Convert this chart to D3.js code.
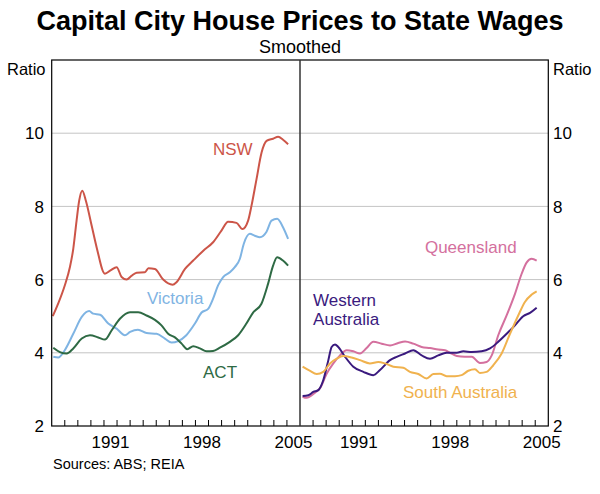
<!DOCTYPE html>
<html>
<head>
<meta charset="utf-8">
<script src="https://d3js.org/d3.v7.min.js"></script>
<style>
  body { margin: 0; background: #fff; }
  text { font-family: Arial, "Liberation Sans", sans-serif; }
</style>
</head>
<body>
<svg id="chart" width="600" height="494"></svg>
<script>
// Values: [year, ratio]
var nsw = [[1987.08,5.0],[1987.5,5.35],[1988.0,5.84],[1988.4,6.35],[1988.65,6.84],[1988.9,7.6],[1989.1,8.15],[1989.34,8.43],
  [1989.62,8.15],[1990.06,7.47],[1990.44,6.88],[1991.07,6.16],[1991.5,6.25],[1991.97,6.34],[1992.35,6.07],[1992.73,6.0],
  [1993.1,6.1],[1993.5,6.19],[1994.13,6.2],[1994.4,6.31],[1994.9,6.29],[1995.53,6.0],[1996.25,5.86],[1996.55,5.93],
  [1997.2,6.29],[1997.83,6.52],[1998.6,6.79],[1999.35,7.02],[1999.99,7.34],[2000.5,7.58],[2001.14,7.55],[2001.6,7.38],
  [2002.03,7.61],[2002.29,8.02],[2002.67,8.74],[2003.06,9.47],[2003.44,9.79],[2003.94,9.85],[2004.33,9.9],[2004.7,9.82],[2005.09,9.7]];

var victoria = [[1987.12,3.89],[1987.5,3.87],[1988.0,4.07],[1988.65,4.52],[1989.3,4.98],[1989.87,5.14],[1990.18,5.07],
  [1990.7,5.04],[1991.33,4.8],[1991.97,4.66],[1992.6,4.48],[1993.0,4.57],[1993.6,4.63],[1994.26,4.54],[1995.03,4.52],
  [1995.66,4.39],[1996.17,4.28],[1996.68,4.32],[1997.3,4.48],[1997.96,4.8],[1998.47,5.1],[1998.97,5.2],[1999.35,5.48],
  [1999.74,5.85],[2000.12,6.07],[2000.63,6.2],[2001.01,6.34],[2001.4,6.57],[2001.7,6.98],[2002.16,7.25],[2002.54,7.2],
  [2002.93,7.16],[2003.44,7.31],[2003.82,7.61],[2004.25,7.66],[2004.7,7.43],[2005.09,7.11]];

var act = [[1987.12,4.14],[1987.63,4.02],[1988.15,3.98],[1988.65,4.12],[1989.3,4.39],[1989.93,4.48],[1990.56,4.42],
  [1991.07,4.36],[1991.58,4.61],[1992.22,4.93],[1992.99,5.11],[1993.62,5.11],[1994.26,5.02],[1994.9,4.9],[1995.4,4.75],
  [1995.91,4.52],[1996.43,4.42],[1996.94,4.25],[1997.37,4.1],[1997.83,4.18],[1998.34,4.12],[1998.85,4.04],[1999.35,4.05],
  [1999.87,4.14],[2000.63,4.3],[2001.27,4.48],[2001.9,4.8],[2002.41,5.1],[2003.05,5.34],[2003.56,5.89],[2003.94,6.38],
  [2004.25,6.61],[2004.7,6.52],[2005.09,6.38]];

var queensland = [[1987.2,2.8],[1987.5,2.77],[1988.15,2.91],[1988.53,3.03],[1989.04,3.43],[1989.55,3.71],[1990.06,3.93],
  [1990.57,4.07],[1991.08,4.04],[1991.59,3.98],[1992.1,4.13],[1992.61,4.3],[1993.25,4.25],[1993.89,4.2],[1994.52,4.27],
  [1995.04,4.31],[1995.67,4.25],[1996.31,4.16],[1996.95,4.13],[1997.58,4.09],[1998.1,4.07],[1998.48,4.0],[1999.0,3.91],
  [1999.62,3.89],[2000.14,3.89],[2000.77,3.72],[2001.28,3.75],[2001.67,3.93],[2002.17,4.48],[2002.81,5.02],[2003.45,5.61],
  [2003.96,6.16],[2004.35,6.47],[2004.73,6.57],[2005.11,6.52]];

var westernAustralia = [[1987.2,2.82],[1987.64,2.84],[1988.02,2.93],[1988.4,2.98],[1988.78,3.25],[1989.17,3.8],[1989.42,4.16],
  [1989.68,4.23],[1989.93,4.16],[1990.45,3.89],[1991.08,3.62],[1991.85,3.48],[1992.61,3.39],[1993.12,3.53],[1993.89,3.8],
  [1994.4,3.89],[1995.04,3.98],[1995.67,4.07],[1996.31,3.93],[1996.95,3.84],[1997.58,3.93],[1998.22,4.0],[1999.0,4.0],
  [1999.5,4.04],[2000.14,4.02],[2000.9,4.04],[2001.54,4.12],[2002.17,4.3],[2002.81,4.52],[2003.45,4.75],[2004.08,5.0],
  [2004.6,5.09],[2005.11,5.23]];

var southAustralia = [[1987.2,3.62],[1987.74,3.51],[1988.28,3.42],[1988.78,3.48],[1989.3,3.71],[1989.81,3.84],[1990.31,3.91],
  [1990.95,3.87],[1991.59,3.8],[1992.35,3.71],[1992.99,3.75],[1993.5,3.71],[1994.14,3.62],[1994.9,3.59],[1995.41,3.48],
  [1996.05,3.42],[1996.69,3.3],[1997.2,3.42],[1997.71,3.43],[1998.22,3.36],[1998.86,3.36],[1999.37,3.39],[1999.88,3.51],
  [2000.39,3.55],[2000.77,3.45],[2001.28,3.48],[2001.79,3.66],[2002.43,3.98],[2003.07,4.52],[2003.7,5.02],[2004.21,5.39],
  [2004.73,5.59],[2005.11,5.68]];

var yTicks = [2, 4, 6, 8, 10];
var yearLabels = [1991, 1998, 2005];

// panels and series
var panels = [
  { x0: 51.7, x1: 300, series: [
    { data: nsw, color: "#cc5548", label: ["NSW"], lx: 1999.34, ly: 9.4 },
    { data: victoria, color: "#7fb4e3", label: ["Victoria"], lx: 1994.29, ly: 5.33 },
    { data: act, color: "#2e6a44", label: ["ACT"], lx: 1998.58, ly: 3.31 }
  ]},
  { x0: 300, x1: 548.3, series: [
    { data: queensland, color: "#d4709e", label: ["Queensland"], lx: 1996.56, ly: 6.73 },
    { data: westernAustralia, color: "#3a1a7e", label: ["Western", "Australia"], lx: 1988.0, ly: 5.28 },
    { data: southAustralia, color: "#f0b24e", label: ["South Australia"], lx: 1994.88, ly: 2.77 }
  ]}
];

var plotTop = 60, plotBottom = 426, plotLeft = 51.7, plotRight = 548.3;
var svg = d3.select("#chart");

var y = d3.scaleLinear().domain([2, 12]).range([plotBottom, plotTop]);

// titles
svg.append("text").attr("x", 300).attr("y", 30).attr("text-anchor", "middle")
  .style("font-size", "27px").style("font-weight", "bold").text("Capital City House Prices to State Wages");
svg.append("text").attr("x", 300).attr("y", 53).attr("text-anchor", "middle")
  .style("font-size", "18px").text("Smoothed");

// gridlines
svg.append("g").selectAll("line").data(yTicks.slice(1)).join("line")
  .attr("x1", plotLeft).attr("x2", plotRight)
  .attr("y1", function(d) { return y(d); }).attr("y2", function(d) { return y(d); })
  .attr("stroke", "#c4c4c4").attr("stroke-width", 1);

// y tick labels both sides
svg.append("g").selectAll("text").data(yTicks).join("text")
  .attr("x", 44).attr("y", function(d) { return y(d); }).attr("dy", "0.36em")
  .attr("text-anchor", "end").style("font-size", "17px").text(function(d) { return d; });
svg.append("g").selectAll("text").data(yTicks).join("text")
  .attr("x", 553).attr("y", function(d) { return y(d); }).attr("dy", "0.36em")
  .attr("text-anchor", "start").style("font-size", "17px").text(function(d) { return d; });
svg.append("text").attr("x", 7).attr("y", 75).style("font-size", "16.5px").text("Ratio");
svg.append("text").attr("x", 553).attr("y", 75).style("font-size", "16.5px").text("Ratio");

var line = d3.line().curve(d3.curveMonotoneX);

panels.forEach(function(p) {
  var x = d3.scaleLinear().domain([1987, 2006]).range([p.x0, p.x1]);
  var g = svg.append("g");

  // year ticks pointing up
  g.selectAll("line.tick").data(d3.range(1988, 2006)).join("line")
    .attr("class", "tick")
    .attr("x1", function(d) { return x(d); }).attr("x2", function(d) { return x(d); })
    .attr("y1", plotBottom).attr("y2", plotBottom - 6)
    .attr("stroke", "#000").attr("stroke-width", 1);

  g.selectAll("text.year").data(yearLabels).join("text")
    .attr("class", "year")
    .attr("x", function(d) { return x(d + 0.5); }).attr("y", 448)
    .attr("text-anchor", "middle").style("font-size", "17px").text(function(d) { return d; });

  p.series.forEach(function(s) {
    g.append("path").datum(s.data)
      .attr("fill", "none").attr("stroke", s.color).attr("stroke-width", 2)
      .attr("stroke-linejoin", "round")
      .attr("d", line.x(function(d) { return x(d[0]); }).y(function(d) { return y(d[1]); }));

    var t = g.append("text").attr("x", x(s.lx)).attr("y", y(s.ly))
      .attr("fill", s.color).style("font-size", "17px");
    s.label.forEach(function(l, i) {
      t.append("tspan").attr("x", x(s.lx)).attr("dy", i === 0 ? 0 : "1.13em").text(l);
    });
  });
});

// frame and divider
svg.append("rect").attr("x", plotLeft).attr("y", plotTop).attr("width", plotRight - plotLeft).attr("height", plotBottom - plotTop)
  .attr("fill", "none").attr("stroke", "#000").attr("stroke-width", 1.2);
svg.append("line").attr("x1", 300).attr("x2", 300).attr("y1", plotTop).attr("y2", plotBottom)
  .attr("stroke", "#333").attr("stroke-width", 1.5);

svg.append("text").attr("x", 53).attr("y", 469).style("font-size", "14.5px").text("Sources: ABS; REIA");
</script>
</body>
</html>
